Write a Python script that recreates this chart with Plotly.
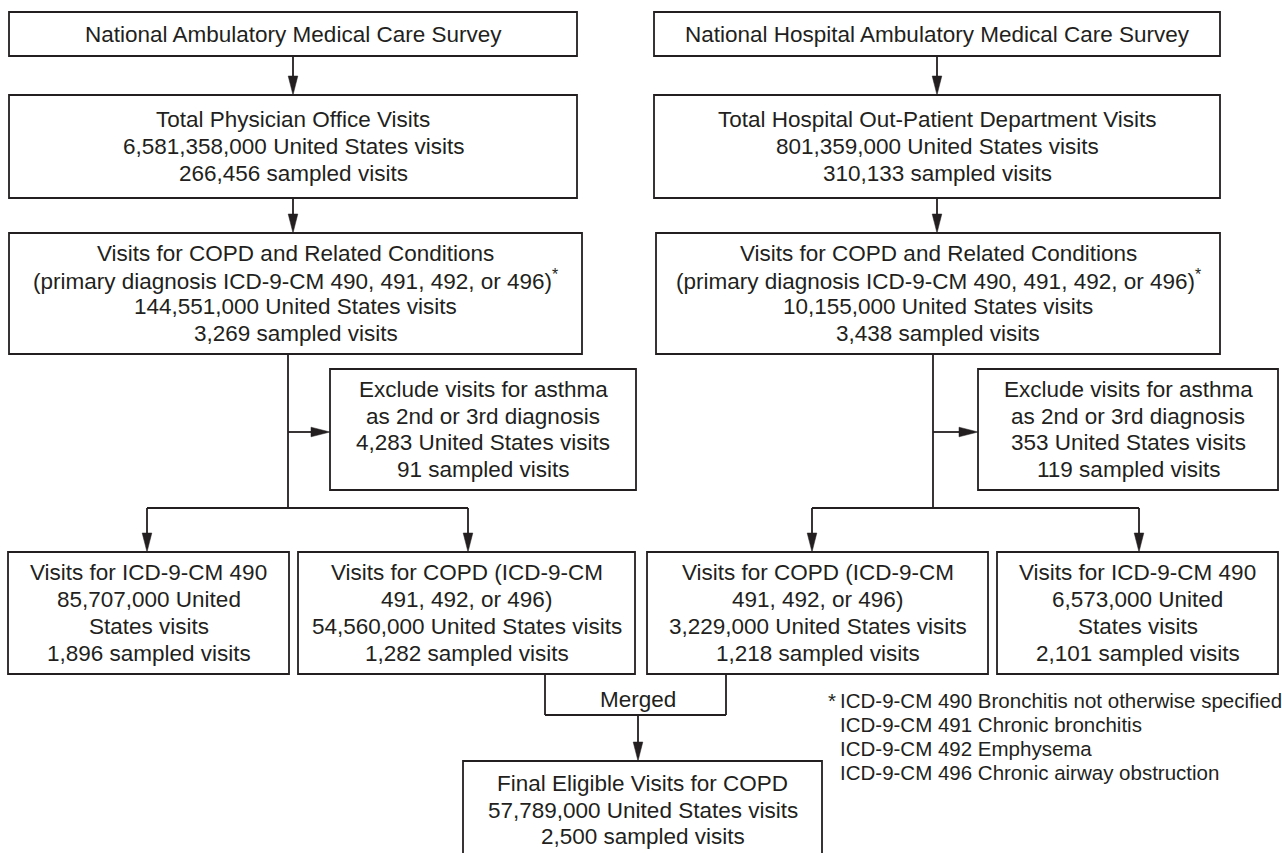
import plotly.graph_objects as go

# ---------------- data ----------------
survey_names = ["National Ambulatory Medical Care Survey",
                "National Hospital Ambulatory Medical Care Survey"]
total_titles = ["Total Physician Office Visits",
                "Total Hospital Out-Patient Department Visits"]
total_us_visits = ["6,581,358,000", "801,359,000"]
total_sampled = ["266,456", "310,133"]
related_us_visits = ["144,551,000", "10,155,000"]
related_sampled = ["3,269", "3,438"]
asthma_us_visits = ["4,283", "353"]
asthma_sampled = ["91", "119"]
icd490_us_visits = ["85,707,000", "6,573,000"]
icd490_sampled = ["1,896", "2,101"]
copd_us_visits = ["54,560,000", "3,229,000"]
copd_sampled = ["1,282", "1,218"]
final_us_visits = "57,789,000"
final_sampled = "2,500"
footnote_codes = ["490", "491", "492", "496"]
footnote_names = ["Bronchitis not otherwise specified", "Chronic bronchitis",
                  "Emphysema", "Chronic airway obstruction"]

# ---------------- layout / style ----------------
W, H = 1282, 853
INK = "#231f20"
FONT = "Liberation Sans, Arial, Helvetica, sans-serif"
BOX_FS = 22.5
GAP = 26.7
FOOT_FS = 20.5
FOOT_GAP = 24.3
LW = 1.8
AH_LEN = 19
AH_HALF = 4.8

shapes, annotations = [], []


def rect(x0, x1, y0, y1):
    shapes.append(dict(type="rect", xref="x", yref="y", x0=x0, x1=x1, y0=y0, y1=y1,
                       line=dict(color=INK, width=LW), fillcolor="rgba(0,0,0,0)"))


def seg(x0, y0, x1, y1):
    shapes.append(dict(type="line", xref="x", yref="y", x0=x0, y0=y0, x1=x1, y1=y1,
                       line=dict(color=INK, width=LW)))


def tri(path):
    shapes.append(dict(type="path", xref="x", yref="y", path=path,
                       fillcolor=INK, line=dict(color=INK, width=0.5)))


def arrow_down(x, y0, y1):
    seg(x, y0, x, y1 - AH_LEN + 2)
    tri(f"M {x-AH_HALF},{y1-AH_LEN} L {x+AH_HALF},{y1-AH_LEN} L {x},{y1} Z")


def arrow_right(y, x0, x1):
    seg(x0, y, x1 - AH_LEN + 2, y)
    tri(f"M {x1-AH_LEN},{y-AH_HALF} L {x1-AH_LEN},{y+AH_HALF} L {x1},{y} Z")


def text(x, y, s, fs=BOX_FS, anchor="center"):
    annotations.append(dict(x=x, y=y, xref="x", yref="y", text=s, showarrow=False,
                            xanchor=anchor, yanchor="middle",
                            font=dict(family=FONT, size=fs, color=INK)))


def box(x0, x1, y0, y1, lines, cy=None):
    rect(x0, x1, y0, y1)
    cx = (x0 + x1) / 2
    if cy is None:
        cy = (y0 + y1) / 2
    n = len(lines)
    for i, s in enumerate(lines):
        text(cx, cy + (i - (n - 1) / 2) * GAP, s)


columns = [
    dict(b1=(9, 577, 12, 56), b2=(9, 577, 95, 198), b3=(9, 582, 233, 354),
         trunk=288, excl=(330, 636, 369, 490), arr_y=432, split_y=508,
         r4=[(8, 289, 552, 674), (298, 635, 552, 674)], split_x=(147, 468),
         order=["490", "copd"]),
    dict(b1=(654, 1220, 12, 56), b2=(654, 1220, 95, 198), b3=(656, 1220, 233, 354),
         trunk=933, excl=(978, 1278, 369, 490), arr_y=432, split_y=508,
         r4=[(647, 988, 552, 674), (997, 1278, 552, 674)], split_x=(812, 1139),
         order=["copd", "490"]),
]

for i, c in enumerate(columns):
    b1, b2, b3 = c["b1"], c["b2"], c["b3"]
    box(*b1, [survey_names[i]])
    box(*b2, [total_titles[i], f"{total_us_visits[i]} United States visits",
              f"{total_sampled[i]} sampled visits"])
    box(*b3, ["Visits for COPD and Related Conditions",
              "(primary diagnosis ICD-9-CM 490, 491, 492, or 496)<sup>*</sup>",
              f"{related_us_visits[i]} United States visits",
              f"{related_sampled[i]} sampled visits"])
    box(*c["excl"], ["Exclude visits for asthma", "as 2nd or 3rd diagnosis",
                     f"{asthma_us_visits[i]} United States visits",
                     f"{asthma_sampled[i]} sampled visits"])
    xc1 = (b1[0] + b1[1]) / 2
    arrow_down(xc1, b1[3], b2[2])
    arrow_down(xc1, b2[3], b3[2])
    t = c["trunk"]
    seg(t, b3[3], t, c["split_y"])
    arrow_right(c["arr_y"], t, c["excl"][0])
    sx0, sx1 = c["split_x"]
    seg(sx0, c["split_y"], sx1, c["split_y"])
    for sx, r, kind in zip(c["split_x"], c["r4"], c["order"]):
        arrow_down(sx, c["split_y"], r[2])
        if kind == "490":
            box(*r, ["Visits for ICD-9-CM 490", f"{icd490_us_visits[i]} United",
                     "States visits", f"{icd490_sampled[i]} sampled visits"])
        else:
            box(*r, ["Visits for COPD (ICD-9-CM", "491, 492, or 496)",
                     f"{copd_us_visits[i]} United States visits",
                     f"{copd_sampled[i]} sampled visits"])

# merged connector
mx0, mx1, my_top, my, mcx = 545, 726, 674, 715, 638
seg(mx0, my_top, mx0, my)
seg(mx1, my_top, mx1, my)
seg(mx0, my, mx1, my)
text(mcx, 699, "Merged")
final_box = (463, 822, 761, 862)
arrow_down(mcx, my, final_box[2])
box(*final_box, ["Final Eligible Visits for COPD",
                 f"{final_us_visits} United States visits",
                 f"{final_sampled} sampled visits"], cy=810)

# footnote
text(826, 700, "*", fs=FOOT_FS, anchor="left")
for k, (code, name) in enumerate(zip(footnote_codes, footnote_names)):
    text(838, 700 + k * FOOT_GAP, f"ICD-9-CM {code} {name}", fs=FOOT_FS, anchor="left")

fig = go.Figure()
fig.update_layout(
    width=W, height=H, margin=dict(l=0, r=0, t=0, b=0),
    paper_bgcolor="white", plot_bgcolor="white",
    xaxis=dict(range=[0, W], visible=False, fixedrange=True),
    yaxis=dict(range=[H, 0], visible=False, fixedrange=True),
    shapes=shapes, annotations=annotations, showlegend=False,
)
fig.write_html("out.html", config={"displayModeBar": False},
               post_script="document.body.style.margin='0';document.body.style.overflow='hidden';")
